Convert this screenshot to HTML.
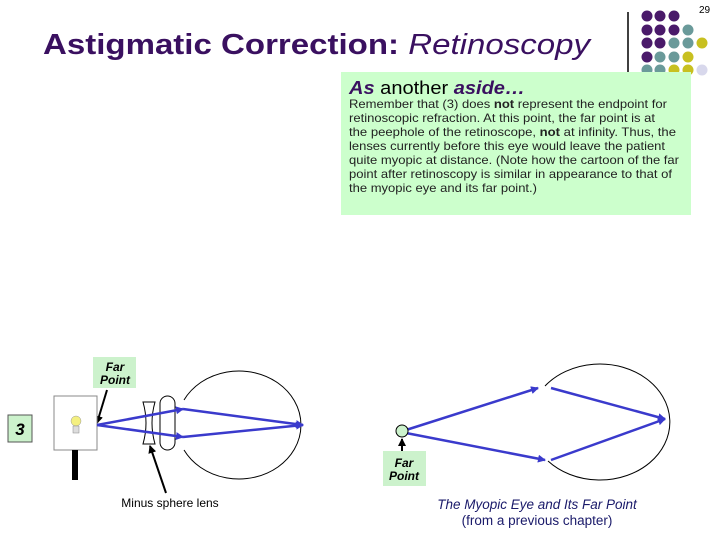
<!DOCTYPE html>
<html><head><style>
body{margin:0;background:#fff;}
svg{display:block;font-family:"Liberation Sans",sans-serif;}
</style></head><body>
<svg width="720" height="540" viewBox="0 0 720 540" xmlns="http://www.w3.org/2000/svg">
<defs>
<marker id="a" markerWidth="8" markerHeight="8" refX="7" refY="4" orient="auto" markerUnits="userSpaceOnUse"><path d="M0,0 L8,4 L0,8 z" fill="#3a3acc"/></marker>
<marker id="k" markerWidth="8" markerHeight="8" refX="7" refY="4" orient="auto" markerUnits="userSpaceOnUse"><path d="M0,0 L8,4 L0,8 z" fill="#000"/></marker>
</defs>
<text x="699" y="13" font-size="10">29</text>
<text x="43" y="54" font-size="29" font-weight="bold" fill="#3a1060" textLength="547" lengthAdjust="spacingAndGlyphs">Astigmatic Correction: <tspan font-weight="normal" font-style="italic">Retinoscopy</tspan></text>
<line x1="628" y1="12" x2="628" y2="76" stroke="#000" stroke-width="1.5"/>
<g>
<circle cx="647" cy="16" r="5.5" fill="#4a1a6a"/><circle cx="660" cy="16" r="5.5" fill="#4a1a6a"/><circle cx="674" cy="16" r="5.5" fill="#4a1a6a"/>
<circle cx="647" cy="30" r="5.5" fill="#4a1a6a"/><circle cx="660" cy="30" r="5.5" fill="#4a1a6a"/><circle cx="674" cy="30" r="5.5" fill="#4a1a6a"/><circle cx="688" cy="30" r="5.5" fill="#6a9a9a"/>
<circle cx="647" cy="43" r="5.5" fill="#4a1a6a"/><circle cx="660" cy="43" r="5.5" fill="#4a1a6a"/><circle cx="674" cy="43" r="5.5" fill="#6a9a9a"/><circle cx="688" cy="43" r="5.5" fill="#6a9a9a"/><circle cx="702" cy="43" r="5.5" fill="#c8c020"/>
<circle cx="647" cy="57" r="5.5" fill="#4a1a6a"/><circle cx="660" cy="57" r="5.5" fill="#6a9a9a"/><circle cx="674" cy="57" r="5.5" fill="#6a9a9a"/><circle cx="688" cy="57" r="5.5" fill="#c8c020"/>
<circle cx="647" cy="70" r="5.5" fill="#6a9a9a"/><circle cx="660" cy="70" r="5.5" fill="#6a9a9a"/><circle cx="674" cy="70" r="5.5" fill="#c8c020"/><circle cx="688" cy="70" r="5.5" fill="#c8c020"/><circle cx="702" cy="70" r="5.5" fill="#d8d8ec"/>
</g>
<rect x="341" y="72" width="350" height="143" fill="#ccffcc"/>
<text x="349" y="94" font-size="18" textLength="176" lengthAdjust="spacingAndGlyphs"><tspan font-weight="bold" font-style="italic" fill="#3a1060">As</tspan> another <tspan font-weight="bold" font-style="italic" fill="#3a1060">aside…</tspan></text>
<g font-size="12" fill="#222" lengthAdjust="spacingAndGlyphs">
<text x="349" y="108" textLength="318" lengthAdjust="spacingAndGlyphs">Remember that (3) does <tspan font-weight="bold">not</tspan> represent the endpoint for</text>
<text x="349" y="122" textLength="306" lengthAdjust="spacingAndGlyphs">retinoscopic refraction. At this point, the far point is at</text>
<text x="349" y="136" textLength="327" lengthAdjust="spacingAndGlyphs">the peephole of the retinoscope, <tspan font-weight="bold">not</tspan> at infinity. Thus, the</text>
<text x="349" y="150" textLength="316" lengthAdjust="spacingAndGlyphs">lenses currently before this eye would leave the patient</text>
<text x="349" y="164" textLength="330" lengthAdjust="spacingAndGlyphs">quite myopic at distance. (Note how the cartoon of the far</text>
<text x="349" y="178" textLength="323" lengthAdjust="spacingAndGlyphs">point after retinoscopy is similar in appearance to that of</text>
<text x="349" y="192" textLength="188" lengthAdjust="spacingAndGlyphs">the myopic eye and its far point.)</text>
</g>
<rect x="93" y="357" width="43" height="31" fill="#ccf2cc"/>
<text x="115" y="371" font-size="12" font-style="italic" font-weight="bold" text-anchor="middle">Far</text>
<text x="115" y="384" font-size="12" font-style="italic" font-weight="bold" text-anchor="middle">Point</text>
<line x1="107" y1="390" x2="97" y2="423" stroke="#000" stroke-width="2" marker-end="url(#k)"/>
<rect x="8" y="415" width="24" height="27" fill="#ccf2cc" stroke="#555"/>
<text x="20" y="435" font-size="17" font-weight="bold" font-style="italic" text-anchor="middle">3</text>
<rect x="54" y="396" width="43" height="54" fill="#fff" stroke="#888"/>
<rect x="72" y="450" width="6" height="30" fill="#000"/>
<circle cx="76" cy="421" r="5" fill="#f4f080" stroke="#999" stroke-width="0.5"/>
<rect x="73" y="426" width="6" height="7" fill="#ddd" stroke="#888" stroke-width="0.5"/>
<path d="M184,400 A62,54 0 1,1 184,450" fill="none" stroke="#000"/>
<path d="M143,402 L155,402 Q149,423 155,444 L143,444 Q149,423 143,402 z" fill="#fff" stroke="#000"/>
<rect x="160" y="396" width="15" height="54" rx="7.5" fill="#fff" stroke="#000"/>
<g stroke="#3a3acc" stroke-width="2.5" fill="none">
<line x1="97" y1="425" x2="183" y2="409" marker-end="url(#a)"/>
<line x1="97" y1="425" x2="183" y2="437" marker-end="url(#a)"/>
<line x1="183" y1="409" x2="303" y2="425" marker-end="url(#a)"/>
<line x1="183" y1="437" x2="303" y2="425" marker-end="url(#a)"/>
</g>
<line x1="166" y1="493" x2="150" y2="446" stroke="#000" stroke-width="2" marker-end="url(#k)"/>
<text x="170" y="507" font-size="12" text-anchor="middle">Minus sphere lens</text>
<path d="M545,386 A70,58 0 1,1 548,461" fill="none" stroke="#000"/>
<g stroke="#3a3acc" stroke-width="2.5" fill="none">
<line x1="406" y1="430" x2="538" y2="388" marker-end="url(#a)"/>
<line x1="406" y1="433" x2="545" y2="460" marker-end="url(#a)"/>
<line x1="551" y1="388" x2="665" y2="419" marker-end="url(#a)"/>
<line x1="551" y1="460" x2="665" y2="419" marker-end="url(#a)"/>
</g>
<circle cx="402" cy="431" r="6" fill="#ccf2cc" stroke="#000"/>
<line x1="402" y1="452" x2="402" y2="439" stroke="#000" stroke-width="2" marker-end="url(#k)"/>
<rect x="383" y="451" width="43" height="35" fill="#ccf2cc"/>
<text x="404" y="467" font-size="12" font-style="italic" font-weight="bold" text-anchor="middle">Far</text>
<text x="404" y="480" font-size="12" font-style="italic" font-weight="bold" text-anchor="middle">Point</text>
<text x="537" y="509" font-size="13.5" font-style="italic" fill="#1a1a6a" text-anchor="middle">The Myopic Eye and Its Far Point</text>
<text x="537" y="525" font-size="13.5" fill="#1a1a6a" text-anchor="middle">(from a previous chapter)</text>
</svg>
</body></html>
